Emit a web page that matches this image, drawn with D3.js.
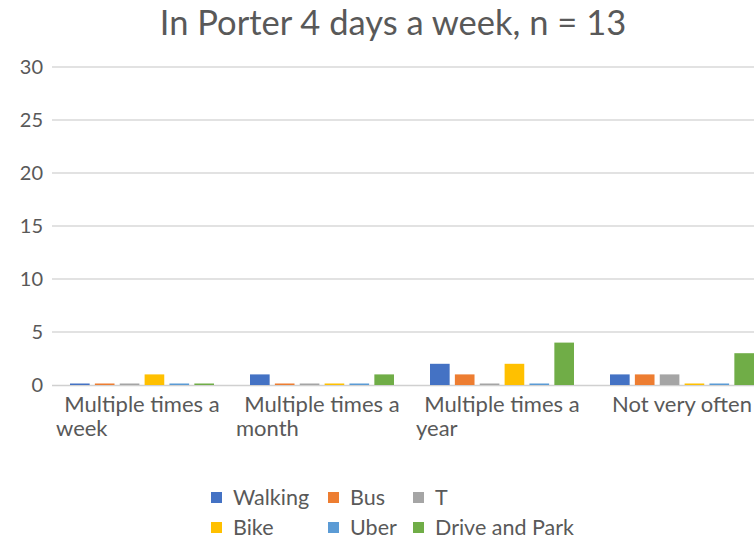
<!DOCTYPE html>
<html>
<head>
<meta charset="utf-8">
<script src="https://cdn.jsdelivr.net/npm/d3@7"></script>
<style>
  body { margin: 0; background: #fff; }
  svg { display: block; font-family: Lato, 'Open Sans', sans-serif; }
</style>
</head>
<body>
<svg width="754" height="539"></svg>
<script>
(function (d3) {
  'use strict'

  const categories = ['Multiple times a week', 'Multiple times a month', 'Multiple times a year', 'Not very often']
  const series = ['Walking', 'Bus', 'T', 'Bike', 'Uber', 'Drive and Park']
  const colors = ['#4472C4', '#ED7D31', '#A5A5A5', '#FFC000', '#5B9BD5', '#70AD47']
  // values per category, in series order
  const walking = [0, 1, 2, 1]
  const bus = [0, 0, 1, 1]
  const tRail = [0, 0, 0, 1]
  const bike = [1, 0, 2, 0]
  const uber = [0, 0, 0, 0]
  const drive = [0, 1, 4, 3]
  const yTicks = [0, 5, 10, 15, 20, 25, 30]

  const values = [walking, bus, tRail, bike, uber, drive]
  const rows = categories.map(function (c, i) {
    return { category: c, bars: series.map(function (s, j) { return { key: s, value: values[j][i], color: colors[j] } }) }
  })

  const svg = d3.select('svg')
  const left = 52, bandW = 180
  const x0 = d3.scaleBand().domain(categories).range([left, left + bandW * categories.length])
  const x1 = d3.scaleBand().domain(series).range([18, 162]).paddingInner(0.21)
  const y = d3.scaleLinear().domain([0, 30]).range([385, 67])

  // title
  svg.append('text')
    .attr('x', 393).attr('y', 35)
    .attr('text-anchor', 'middle')
    .attr('fill', '#595959')
    .style('font-size', '34.5px')
    .text('In Porter 4 days a week, n = 13')

  // gridlines + y labels
  const grid = svg.append('g')
  grid.selectAll('line').data(yTicks.filter(function (d) { return d > 0 })).enter().append('line')
    .attr('x1', left).attr('x2', 754)
    .attr('y1', function (d) { return y(d) }).attr('y2', function (d) { return y(d) })
    .attr('stroke', '#d9d9d9').attr('stroke-width', 1.3)
  grid.selectAll('text').data(yTicks).enter().append('text')
    .attr('x', 43).attr('y', function (d) { return y(d) + 7 })
    .attr('text-anchor', 'end')
    .attr('fill', '#595959')
    .style('font-size', '20px')
    .text(function (d) { return d })

  // axis line
  svg.append('line')
    .attr('x1', left).attr('x2', 754).attr('y1', y(0) + 0.5).attr('y2', y(0) + 0.5)
    .attr('stroke', '#d0d0d0').attr('stroke-width', 1.5)

  // bars (zero values drawn as a thin line like Excel)
  const groups = svg.selectAll('g.cat').data(rows).enter().append('g')
    .attr('class', 'cat')
    .attr('transform', function (d) { return 'translate(' + x0(d.category) + ',0)' })
  groups.selectAll('rect').data(function (d) { return d.bars }).enter().append('rect')
    .attr('x', function (d) { return x1(d.key) })
    .attr('width', x1.bandwidth())
    .attr('y', function (d) { return d.value > 0 ? y(d.value) : y(0) - 1.5 })
    .attr('height', function (d) { return d.value > 0 ? y(0) - y(d.value) : 1.5 })
    .attr('fill', function (d) { return d.color })

  // category labels, wrapped to band width
  const labels = svg.append('g')
  categories.forEach(function (c) {
    const words = c.split(' ')
    const lines = []
    let line = ''
    const probe = labels.append('text').style('font-size', '22px')
    words.forEach(function (w) {
      const test = line ? line + ' ' + w : w
      probe.text(test)
      if (probe.node().getComputedTextLength() > 176 && line) { lines.push(line); line = w } else { line = test }
    })
    lines.push(line)
    probe.remove()
    lines.forEach(function (l, i) {
      labels.append('text')
        .attr('x', i === 0 ? x0(c) + bandW / 2 : x0(c) + 4)
        .attr('y', 412 + i * 24)
        .attr('text-anchor', i === 0 ? 'middle' : 'start')
        .attr('fill', '#595959')
        .style('font-size', '22px')
        .text(l)
    })
  })

  // legend
  const legendX = [211, 328, 413]
  const legend = svg.append('g')
  series.forEach(function (s, i) {
    const col = i % 3, row = Math.floor(i / 3)
    const lx = legendX[col], ly = 497 + row * 30
    legend.append('rect').attr('x', lx).attr('y', ly - 5).attr('width', 11).attr('height', 11).attr('fill', colors[i])
    legend.append('text').attr('x', lx + 22).attr('y', ly + 8)
      .attr('fill', '#595959').style('font-size', '21.5px').text(s)
  })
}(d3))
</script>
</body>
</html>
